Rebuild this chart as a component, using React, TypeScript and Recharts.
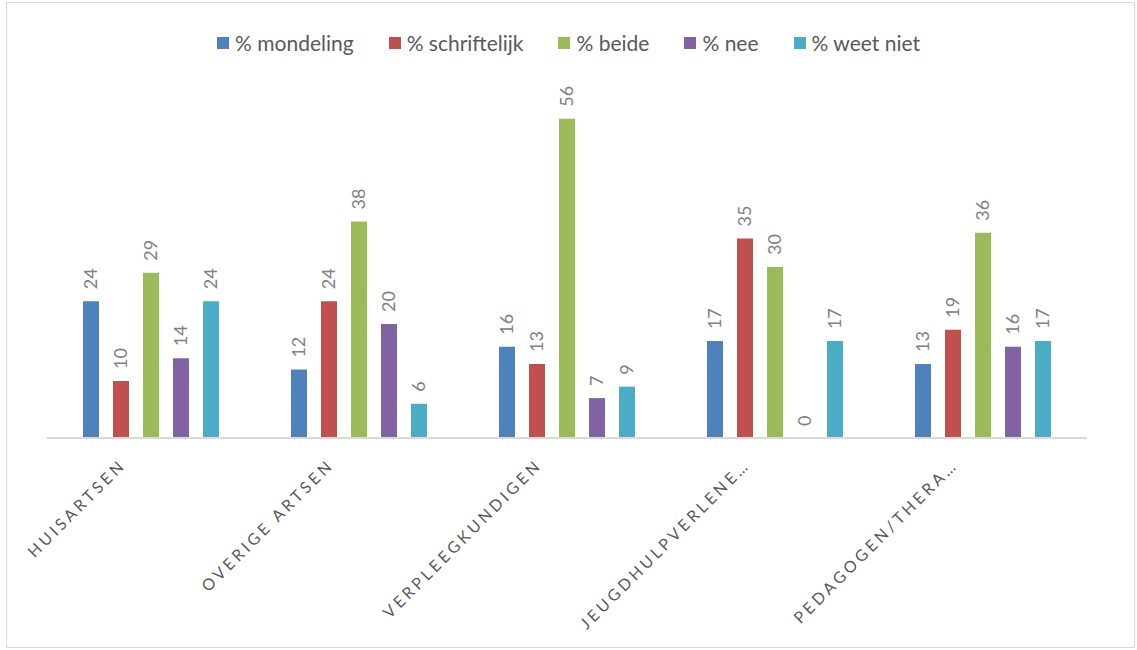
import { BarChart, Bar, XAxis, YAxis, Legend, LabelList } from "recharts";

const categories = [
  "HUISARTSEN",
  "OVERIGE ARTSEN",
  "VERPLEEGKUNDIGEN",
  "JEUGDHULPVERLENE…",
  "PEDAGOGEN/THERA…",
];
const mondeling = [24, 12, 16, 17, 13];
const schriftelijk = [10, 24, 13, 35, 19];
const beide = [29, 38, 56, 30, 36];
const nee = [14, 20, 7, 0, 16];
const weetNiet = [24, 6, 9, 17, 17];

const series = [
  { key: "mondeling", name: "% mondeling", color: "#4F81BD" },
  { key: "schriftelijk", name: "% schriftelijk", color: "#C0504D" },
  { key: "beide", name: "% beide", color: "#9BBB59" },
  { key: "nee", name: "% nee", color: "#8064A2" },
  { key: "weetNiet", name: "% weet niet", color: "#4BACC6" },
];

const data = categories.map((cat, i) => ({
  cat,
  mondeling: mondeling[i],
  schriftelijk: schriftelijk[i],
  beide: beide[i],
  nee: nee[i],
  weetNiet: weetNiet[i],
}));

const font = "Lato, 'Liberation Sans', sans-serif";

const ValueLabel = (props: any) => {
  const { x, y, width, value } = props;
  const cx = x + width / 2 + 6;
  const cy = y - 12;
  return (
    <text
      x={cx}
      y={cy}
      transform={`rotate(-90 ${cx} ${cy})`}
      textAnchor="start"
      fontSize={18}
      fill="#808080"
      fontFamily={font}
    >
      {value}
    </text>
  );
};

const CatTick = (props: any) => {
  const { x, y, payload } = props;
  const tx = x - 24;
  const ty = y + 20;
  return (
    <text
      x={tx}
      y={ty}
      transform={`rotate(-45 ${tx} ${ty})`}
      textAnchor="end"
      fontSize={16}
      fill="#595959"
      fontFamily={font}
      letterSpacing={3.4}
    >
      {payload.value}
    </text>
  );
};

const LegendContent = () => (
  <div
    style={{
      display: "flex",
      justifyContent: "center",
      gap: 35,
      fontFamily: font,
      fontSize: 21,
      color: "#595959",
    }}
  >
    {series.map((s) => (
      <div key={s.key} style={{ display: "flex", alignItems: "center" }}>
        <span
          style={{
            display: "inline-block",
            width: 12,
            height: 12,
            background: s.color,
            marginRight: 6,
          }}
        />
        {s.name}
      </div>
    ))}
  </div>
);

export default function App() {
  return (
    <div
      style={{
        position: "absolute",
        left: 0,
        top: 0,
        width: 1137,
        height: 650,
        background: "#fff",
      }}
    >
      <div
        style={{
          position: "absolute",
          left: 6,
          top: 2,
          width: 1129,
          height: 646,
          border: "1px solid #d9d9d9",
          boxSizing: "border-box",
        }}
      />
      <BarChart
        width={1137}
        height={650}
        data={data}
        margin={{ top: 96, right: 50, bottom: 12, left: 47 }}
        barSize={16}
        barGap={14}
      >
        <XAxis
          dataKey="cat"
          tickLine={false}
          axisLine={{ stroke: "#d9d9d9", strokeWidth: 2 }}
          height={200}
          interval={0}
          tick={<CatTick />}
        />
        <YAxis hide domain={[0, 60]} />
        <Legend
          verticalAlign="middle"
          align="center"
          layout="horizontal"
          wrapperStyle={{ top: 30, left: 0, width: 1137 }}
          content={<LegendContent />}
        />
        {series.map((s) => (
          <Bar
            key={s.key}
            dataKey={s.key}
            name={s.name}
            fill={s.color}
            minPointSize={0.01}
            isAnimationActive={false}
          >
            <LabelList dataKey={s.key} content={<ValueLabel />} />
          </Bar>
        ))}
      </BarChart>
    </div>
  );
}
